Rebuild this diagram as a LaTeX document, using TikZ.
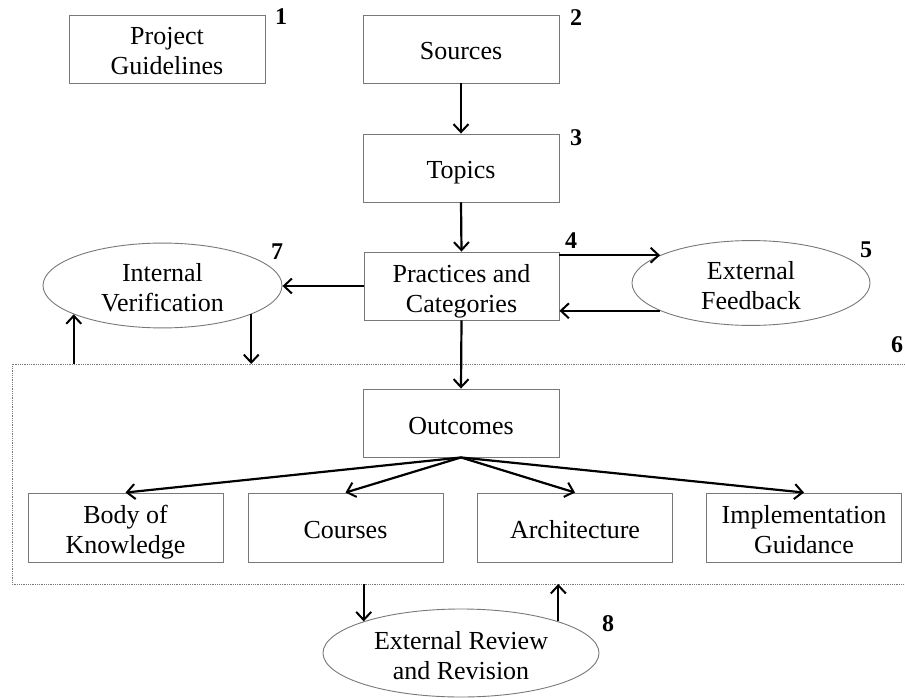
\documentclass[tikz,border=0pt]{standalone}
\usepackage{fontspec}
\setmainfont{Liberation Serif}
\usetikzlibrary{arrows.meta,shapes.geometric}
\definecolor{boxgray}{RGB}{120,120,120}
\newcommand\bxtext[1]{\raisebox{-5pt}[\height][\depth]{\begin{tabular}{@{}c@{}}#1\end{tabular}}}
\tikzset{
  stepbox/.style={draw=boxgray, line width=0.9pt, rectangle, minimum width=196pt, minimum height=68pt, inner sep=0pt, font=\fontsize{26pt}{30pt}\selectfont},
  oval/.style={draw=boxgray, line width=0.9pt, ellipse, inner sep=0pt, font=\fontsize{26pt}{30pt}\selectfont},
  num/.style={font=\fontsize{24pt}{28pt}\selectfont\bfseries, inner sep=0pt},
  arr/.style={draw=black, line width=2.2pt, -{Straight Barb[length=8pt,width=15pt,line width=2pt]}},
  dotbox/.style={draw=boxgray, line width=0.8pt, densely dotted}
}
\begin{document}
\begin{tikzpicture}[x=1pt,y=-1pt]
\useasboundingbox (0,0) rectangle (905,698);
% boxes
\node[stepbox] (pg) at (167,49) {\bxtext{Project\\Guidelines}};
\node[stepbox] (src) at (461,49) {\bxtext{Sources}};
\node[stepbox] (top) at (461,168) {\bxtext{Topics}};
\node[stepbox, minimum width=195pt] (pc) at (461.5,286) {\bxtext{Practices and\\Categories}};
\node[stepbox] (out) at (461,423) {\bxtext{Outcomes}};
\node[stepbox, minimum width=195pt, minimum height=69pt] (bok) at (125.5,527.5) {\bxtext{Body of\\Knowledge}};
\node[stepbox, minimum width=195pt, minimum height=69pt] (crs) at (345.5,527.5) {\bxtext{Courses}};
\node[stepbox, minimum width=195pt, minimum height=69pt] (arch) at (575,527.5) {\bxtext{Architecture}};
\node[stepbox, minimum width=195pt, minimum height=69pt] (impl) at (804,527.5) {\bxtext{Implementation\\Guidance}};
% ellipses
\node[oval, minimum width=239pt, minimum height=73pt] (iv) at (162.5,285.5) {\bxtext{Internal\\Verification}};
\node[oval, minimum width=238pt, minimum height=74pt] (ef) at (751,283) {\bxtext{External\\Feedback}};
\node[oval, minimum width=276pt, minimum height=88pt] (err) at (461,653) {\bxtext{External Review\\and Revision}};
% dotted region
\coordinate (dtr) at (910,364);
\coordinate (dtl) at (12,364);
\coordinate (dbl) at (12,584);
\coordinate (dbr) at (910,584);
\draw[dotbox] (dtr) -- (dtl) -- (dbl) -- (dbr);
% numbers
\node[num] (n1) at (281,17) {1};
\node[num] (n2) at (576,18) {2};
\node[num] (n3) at (576,138) {3};
\node[num] (n4) at (571,241) {4};
\node[num] (n5) at (866,250) {5};
\node[num] (n6) at (897,345) {6};
\node[num] (n7) at (277,252) {7};
\node[num] (n8) at (608,624) {8};
% arrows
\draw[arr] (src.south) -- (top.north);
\draw[arr] (top.south) -- (pc.north);
\draw[arr] (pc.west) -- (pc.west -| iv.east);
\draw[arr] (pc.east |- ef.163) -- (ef.163);
\draw[arr] (ef.197) -- (pc.east |- ef.197);
\draw[arr] (pc.south) -- (out.north);
\draw[arr] (iv.198 |- dtl) -- (iv.198);
\draw[arr] (iv.342) -- (iv.342 |- dtl);
\draw[arr] (out.south) -- (bok.north);
\draw[arr] (out.south) -- (crs.north);
\draw[arr] (out.south) -- (arch.north);
\draw[arr] (out.south) -- (impl.north);
\draw[arr] (err.162 |- dbl) -- (err.162);
\draw[arr] (err.18) -- (err.18 |- dbl);
\end{tikzpicture}
\end{document}
